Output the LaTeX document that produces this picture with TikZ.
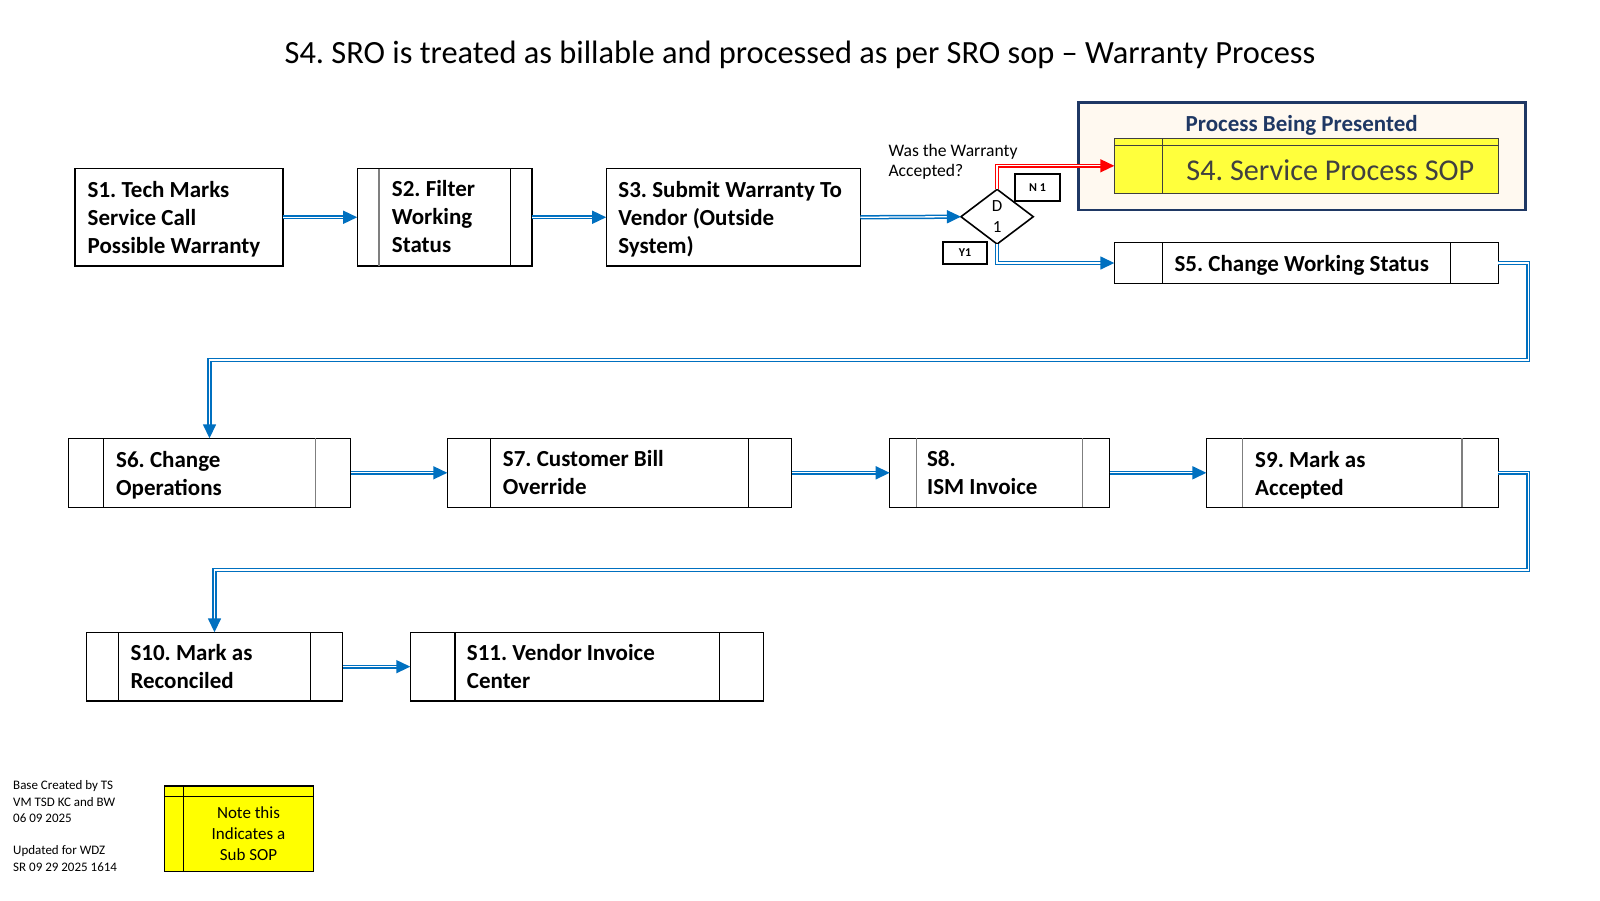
\documentclass[tikz,border=0pt]{standalone}
\usepackage{fontspec}
\setmainfont{Carlito}
\usetikzlibrary{arrows.meta,shapes.geometric}
\frenchspacing
\definecolor{cblue}{HTML}{0070C0}
\definecolor{cred}{HTML}{FF0000}
\definecolor{cnavy}{HTML}{1F3864}
\definecolor{ccream}{HTML}{FFF9F0}
\definecolor{cyel}{HTML}{FFFF3C}
\definecolor{cnote}{HTML}{FFFF00}
\definecolor{cgray}{HTML}{7F7F7F}
\definecolor{cdark}{HTML}{404040}
\tikzset{
  proc/.style={draw=black, line width=1.3pt, rectangle, outer sep=0pt, inner sep=0pt},
  boxtxt/.style={anchor=west, inner sep=0pt, align=left, yshift=-2pt,
    font=\fontsize{23}{28}\selectfont\bfseries},
  nodesc/.style={yshift=2.3pt},
  innerln/.style={draw=black, line width=1.1pt},
  innergray/.style={draw=cgray, line width=1.3pt},
  conn/.style={draw=cblue, double=white, double distance=1.3pt, line width=1.5pt,
    -{Triangle[length=14pt,width=13pt]}},
  rconn/.style={draw=cred, double=white, double distance=1.3pt, line width=1.5pt,
    -{Triangle[length=14pt,width=13pt]}},
  tag/.style={draw=black, line width=2.2pt, rectangle, outer sep=0pt, inner sep=0pt,
    font=\fontsize{12}{14}\selectfont\bfseries},
}
\begin{document}
\begin{tikzpicture}[x=1pt,y=-1pt]
\path[fill=white,use as bounding box] (0,0) rectangle (1600,900);

% title
\node (title) at (800,55) {\fontsize{32.4}{38}\selectfont S4. SRO is treated as billable and processed as per SRO sop – Warranty Process};

% row 1
\node[proc, minimum width=208pt, minimum height=97.5pt] (s1) at (179,217.25) {};
\node[boxtxt] (s1t) at ([xshift=12.5pt]s1.west) {S1. Tech Marks\\Service Call\\Possible Warranty};
\node[proc, minimum width=174.9pt, minimum height=97.5pt] (s2) at (444.65,217.25) {};
\node[boxtxt, nodesc] (s2t) at ([xshift=34.5pt]s2.west) {S2. Filter\\Working\\Status};
\draw[innergray] ([xshift=21.7pt]s2.north west) -- ([xshift=21.7pt]s2.south west);
\draw[innerln] ([xshift=-21.6pt]s2.north east) -- ([xshift=-21.6pt]s2.south east);
\node[proc, minimum width=254.1pt, minimum height=97.5pt] (s3) at (733.25,217.25) {};
\node[boxtxt] (s3t) at ([xshift=12pt]s3.west) {S3. Submit Warranty To\\Vendor (Outside\\System)};

% decision
\node[diamond, draw=black, line width=1.6pt, minimum width=72.3pt, minimum height=54.7pt, inner sep=0pt, outer sep=0pt,
  align=center, font=\fontsize{17}{20.4}\selectfont] (d1) at (997.1,216.7) {D\\1};
\node[anchor=west, align=left, inner sep=0pt, font=\fontsize{17.6}{20.3}\selectfont] (q) at (888.3,161.5)
  {Was the Warranty\\Accepted?};
\node[tag, minimum width=45pt, minimum height=26.7pt] (n1) at (1037.5,187.4) {N 1};
\node[tag, minimum width=44.6pt, minimum height=22.6pt] (y1) at (965,253) {Y1};

% process being presented
\node[draw=cnavy, fill=ccream, line width=2.7pt, rectangle, minimum width=447.4pt, minimum height=107.7pt, outer sep=0pt] (pbp) at (1302,156.15) {};
\node[text=cnavy, font=\fontsize{23}{28}\selectfont\bfseries, inner sep=0pt] (pbpt) at (1301.7,125) {Process Being Presented};
\node[draw=cdark, fill=cyel, line width=1pt, rectangle, minimum width=384pt, minimum height=55pt, outer sep=0pt] (s4) at (1306.3,165.8) {};
\draw[draw=cdark, line width=1pt] ([yshift=-7.4pt]s4.north west) -- ([yshift=-7.4pt]s4.north east);
\draw[draw=cdark, line width=1pt] ([xshift=48pt]s4.north west) -- ([xshift=48pt]s4.south west);
\node[text=cdark, font=\fontsize{30.2}{36}\selectfont, inner sep=0pt] (s4t) at (1330.3,170.5) {S4. Service Process SOP};

\node[proc, minimum width=384pt, minimum height=40.6pt] (s5) at (1306.3,263) {};
\node[boxtxt] (s5t) at ([xshift=60pt]s5.west) {S5. Change Working Status};
\draw[innerln] ([xshift=48pt]s5.north west) -- ([xshift=48pt]s5.south west);
\draw[innerln] ([xshift=-48pt]s5.north east) -- ([xshift=-48pt]s5.south east);

% row 2
\node[proc, minimum width=282.4pt, minimum height=69pt] (s6) at (209.5,472.8) {};
\node[boxtxt] (s6t) at ([xshift=47.7pt]s6.west) {S6. Change\\Operations};
\draw[innerln] ([xshift=35.4pt]s6.north west) -- ([xshift=35.4pt]s6.south west);
\draw[innergray] ([xshift=-35.4pt]s6.north east) -- ([xshift=-35.4pt]s6.south east);
\node[proc, minimum width=344.4pt, minimum height=69pt] (s7) at (619.5,472.8) {};
\node[boxtxt, nodesc] (s7t) at ([xshift=55.4pt]s7.west) {S7. Customer Bill\\Override};
\draw[innerln] ([xshift=43pt]s7.north west) -- ([xshift=43pt]s7.south west);
\draw[innerln] ([xshift=-43pt]s7.north east) -- ([xshift=-43pt]s7.south east);
\node[proc, minimum width=219.9pt, minimum height=69pt] (s8) at (999.65,472.8) {};
\node[boxtxt, nodesc] (s8t) at ([xshift=37.2pt]s8.west) {S8.\\ISM Invoice};
\draw[innergray] ([xshift=26.9pt]s8.north west) -- ([xshift=26.9pt]s8.south west);
\draw[innergray] ([xshift=-27.3pt]s8.north east) -- ([xshift=-27.3pt]s8.south east);
\node[proc, minimum width=291.9pt, minimum height=69pt] (s9) at (1352.35,472.8) {};
\node[boxtxt] (s9t) at ([xshift=48.6pt]s9.west) {S9. Mark as\\Accepted};
\draw[innergray] ([xshift=36pt]s9.north west) -- ([xshift=36pt]s9.south west);
\draw[innergray] ([xshift=-36.4pt]s9.north east) -- ([xshift=-36.4pt]s9.south east);

% row 3
\node[proc, minimum width=256.4pt, minimum height=68.7pt] (s10) at (214.5,666.65) {};
\node[boxtxt, nodesc] (s10t) at ([xshift=44pt]s10.west) {S10. Mark as\\Reconciled};
\draw[innerln] ([xshift=32.4pt]s10.north west) -- ([xshift=32.4pt]s10.south west);
\draw[innerln] ([xshift=-32.4pt]s10.north east) -- ([xshift=-32.4pt]s10.south east);
\node[proc, minimum width=353pt, minimum height=68.7pt] (s11) at (586.8,666.65) {};
\node[boxtxt, nodesc] (s11t) at ([xshift=56.4pt]s11.west) {S11. Vendor Invoice\\Center};
\draw[innerln] ([xshift=44.7pt]s11.north west) -- ([xshift=44.7pt]s11.south west);
\draw[innerln] ([xshift=-44pt]s11.north east) -- ([xshift=-44pt]s11.south east);

% connectors
\coordinate (b1) at (1528.3,360);
\coordinate (b2) at (1528.3,570);
\draw[conn] (s1.east) -- (s2.west);
\draw[conn] (s2.east) -- (s3.west);
\draw[conn] (s3.east) -- (d1.west);
\draw[rconn] (d1.north) |- (s4.west);
\draw[conn] (d1.south) |- (s5.west);
\draw[conn] (s5.east) -| (b1) -| (s6.north);
\draw[conn] (s6.east) -- (s7.west);
\draw[conn] (s7.east) -- (s8.west);
\draw[conn] (s8.east) -- (s9.west);
\draw[conn] (s9.east) -| (b2) -| (s10.north);
\draw[conn] (s10.east) -- (s11.west);

% footer
\node[anchor=west, align=left, inner sep=0pt, font=\fontsize{13}{16.3}\selectfont] (foot) at (13,826)
  {Base Created by TS\\VM TSD KC and BW\\06 09 2025\\[16.3pt]Updated for WDZ\\SR 09 29 2025 1614};
\node[draw=black, fill=cnote, line width=1.3pt, rectangle, minimum width=149pt, minimum height=85.7pt, outer sep=0pt] (note) at (238.8,828.85) {};
\draw[line width=1pt] ([yshift=-10.7pt]note.north west) -- ([yshift=-10.7pt]note.north east);
\draw[line width=1pt] ([xshift=19pt]note.north west) -- ([xshift=19pt]note.south west);
\node[align=center, inner sep=0pt, font=\fontsize{17}{20.7}\selectfont] (notet) at (248.5,833.5)
  {Note this\\Indicates a\\Sub SOP};
\end{tikzpicture}
\end{document}
